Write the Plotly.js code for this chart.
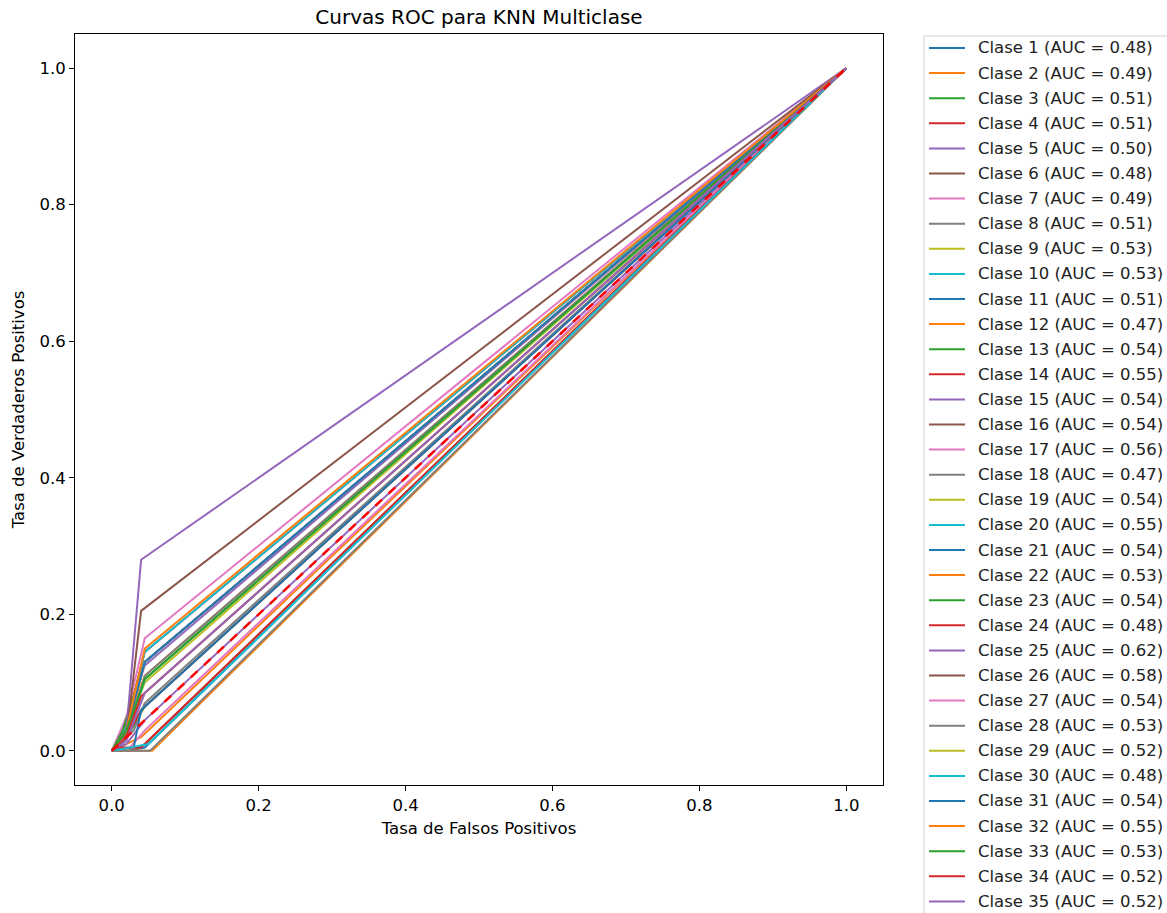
<!DOCTYPE html>
<html>
<head>
<meta charset="utf-8">
<script src="https://cdn.plot.ly/plotly-3.0.1.min.js"></script>
<style>html,body{margin:0;padding:0;background:#fff;}</style>
</head>
<body>
<div id="chart" style="width:1167px;height:913px;"></div>
<script>
// Class labels and AUC values (from legend)
const classNames = Array.from({length: 35}, (_, i) => 'Clase ' + (i + 1));
const aucValues = [0.48, 0.49, 0.51, 0.51, 0.50, 0.48, 0.49, 0.51, 0.53, 0.53,
                   0.51, 0.47, 0.54, 0.55, 0.54, 0.54, 0.56, 0.47, 0.54, 0.55,
                   0.54, 0.53, 0.54, 0.48, 0.62, 0.58, 0.54, 0.53, 0.52, 0.48,
                   0.54, 0.55, 0.53, 0.52, 0.52];

// ROC points per class (false positive rate / true positive rate)
const fprPoints = [
  [0, 0.02, 0.045, 1], [0, 0.04, 1], [0, 0.015, 0.045, 1], [0, 0.02, 0.04, 1], [0, 0.02, 0.045, 1],
  [0, 0.03, 0.045, 1], [0, 0.025, 0.045, 1], [0, 0.03, 0.045, 1], [0, 0.02, 0.045, 1], [0, 0.02, 0.045, 1],
  [0, 0.03, 0.04, 1], [0, 0.055, 1], [0, 0.02, 0.045, 1], [0, 0.02, 0.045, 1], [0, 0.015, 0.045, 1],
  [0, 0.02, 0.045, 1], [0, 0.02, 0.045, 1], [0, 0.052, 1], [0, 0.02, 0.045, 1], [0, 0.02, 0.045, 1],
  [0, 0.02, 0.045, 1], [0, 0.02, 0.045, 1], [0, 0.015, 0.045, 1], [0, 0.01, 0.04, 1], [0, 0.02, 0.04, 1],
  [0, 0.02, 0.04, 1], [0, 0.02, 0.045, 1], [0, 0.02, 0.045, 1], [0, 0.02, 0.045, 1], [0, 0.05, 1],
  [0, 0.02, 0.045, 1], [0, 0.02, 0.045, 1], [0, 0.02, 0.045, 1], [0, 0.02, 0.04, 1], [0, 0.02, 0.045, 1]
];
const tprPoints = [
  [0, 0, 0.005, 1], [0, 0.02, 1], [0, 0.01, 0.065, 1], [0, 0.02, 0.06, 1], [0, 0.01, 0.045, 1],
  [0, 0, 0.01, 1], [0, 0.005, 0.03, 1], [0, 0.03, 0.07, 1], [0, 0.03, 0.1, 1], [0, 0.02, 0.105, 1],
  [0, 0.005, 0.06, 1], [0, 0, 1], [0, 0.03, 0.13, 1], [0, 0.04, 0.145, 1], [0, 0.03, 0.125, 1],
  [0, 0.025, 0.13, 1], [0, 0.05, 0.165, 1], [0, 0, 1], [0, 0.02, 0.13, 1], [0, 0.035, 0.145, 1],
  [0, 0.03, 0.13, 1], [0, 0.03, 0.11, 1], [0, 0.03, 0.13, 1], [0, 0.005, 0.005, 1], [0, 0.03, 0.28, 1],
  [0, 0.02, 0.205, 1], [0, 0.03, 0.13, 1], [0, 0.02, 0.11, 1], [0, 0.02, 0.085, 1], [0, 0.01, 1],
  [0, 0.03, 0.13, 1], [0, 0.03, 0.15, 1], [0, 0.03, 0.105, 1], [0, 0.02, 0.08, 1], [0, 0.015, 0.085, 1]
];

const diagonalX = [0, 1];
const diagonalY = [0, 1];

const palette = ['#1f77b4', '#ff7f0e', '#2ca02c', '#d62728', '#9467bd',
                 '#8c564b', '#e377c2', '#7f7f7f', '#bcbd22', '#17becf'];

const legendLabels = classNames.map((n, i) => n + ' (AUC = ' + aucValues[i].toFixed(2) + ')');

const traces = classNames.map((name, i) => ({
  type: 'scatter',
  mode: 'lines',
  x: fprPoints[i],
  y: tprPoints[i],
  name: legendLabels[i],
  showlegend: false,
  line: {color: palette[i % 10], width: 2}
}));

traces.push({
  type: 'scatter',
  mode: 'lines',
  x: diagonalX,
  y: diagonalY,
  showlegend: false,
  hoverinfo: 'skip',
  line: {color: '#ff0000', width: 2.5, dash: 'dash'}
});

// Geometry of the figure (pixels)
const W = 1167, H = 913;
const M = {l: 75, r: 284, t: 34, b: 128};
const plotW = W - M.l - M.r, plotH = H - M.t - M.b;
const px2x = px => (px - M.l) / plotW;
const py2y = py => (H - M.b - py) / plotH;

// Manual legend (matplotlib-like box anchored outside the axes, clipped by the figure)
const legendShapes = [{
  type: 'rect', xref: 'paper', yref: 'paper', layer: 'above',
  x0: px2x(924), x1: px2x(1185), y0: py2y(36), y1: py2y(940),
  line: {color: '#d0d0d0', width: 1}, fillcolor: 'rgba(255,255,255,0.8)'
}];
const legendAnns = [];
legendLabels.forEach((lab, i) => {
  const py = 48 + i * 25.1;
  legendShapes.push({
    type: 'line', xref: 'paper', yref: 'paper', layer: 'above',
    x0: px2x(929), x1: px2x(965), y0: py2y(py), y1: py2y(py),
    line: {color: palette[i % 10], width: 2}
  });
  legendAnns.push({
    xref: 'paper', yref: 'paper', x: px2x(976), y: py2y(py),
    xanchor: 'left', yanchor: 'middle', showarrow: false,
    text: lab, font: {family: 'DejaVu Sans', size: 16.5, color: '#222'}
  });
});

const axisFont = {family: 'DejaVu Sans', size: 16.5, color: '#000'};

const layout = {
  width: W,
  height: H,
  paper_bgcolor: '#fff',
  plot_bgcolor: '#fff',
  font: axisFont,
  margin: {l: M.l, r: M.r, t: M.t, b: M.b, pad: 0, autoexpand: false},
  title: {
    text: 'Curvas ROC para KNN Multiclase',
    font: {family: 'DejaVu Sans', size: 20, color: '#000'},
    x: 479 / W,
    xanchor: 'center',
    y: 1 - 17 / H,
    yanchor: 'middle'
  },
  xaxis: {
    range: [-0.05, 1.05],
    tickvals: [0, 0.2, 0.4, 0.6, 0.8, 1.0],
    ticktext: ['0.0', '0.2', '0.4', '0.6', '0.8', '1.0'],
    ticks: 'outside', ticklen: 5, tickwidth: 1, tickcolor: '#000',
    showline: true, linecolor: '#000', linewidth: 1, mirror: true,
    showgrid: false, zeroline: false,
    tickfont: axisFont,
    title: {text: 'Tasa de Falsos Positivos', font: axisFont, standoff: 8}
  },
  yaxis: {
    range: [-0.05, 1.05],
    tickvals: [0, 0.2, 0.4, 0.6, 0.8, 1.0],
    ticktext: ['0.0', '0.2', '0.4', '0.6', '0.8', '1.0'],
    ticks: 'outside', ticklen: 5, tickwidth: 1, tickcolor: '#000',
    showline: true, linecolor: '#000', linewidth: 1, mirror: true,
    showgrid: false, zeroline: false,
    tickfont: axisFont,
    title: {text: 'Tasa de Verdaderos Positivos', font: axisFont, standoff: 10}
  },
  shapes: legendShapes,
  annotations: legendAnns,
  showlegend: false
};

Plotly.newPlot('chart', traces, layout, {displayModeBar: false, staticPlot: true});
</script>
</body>
</html>
